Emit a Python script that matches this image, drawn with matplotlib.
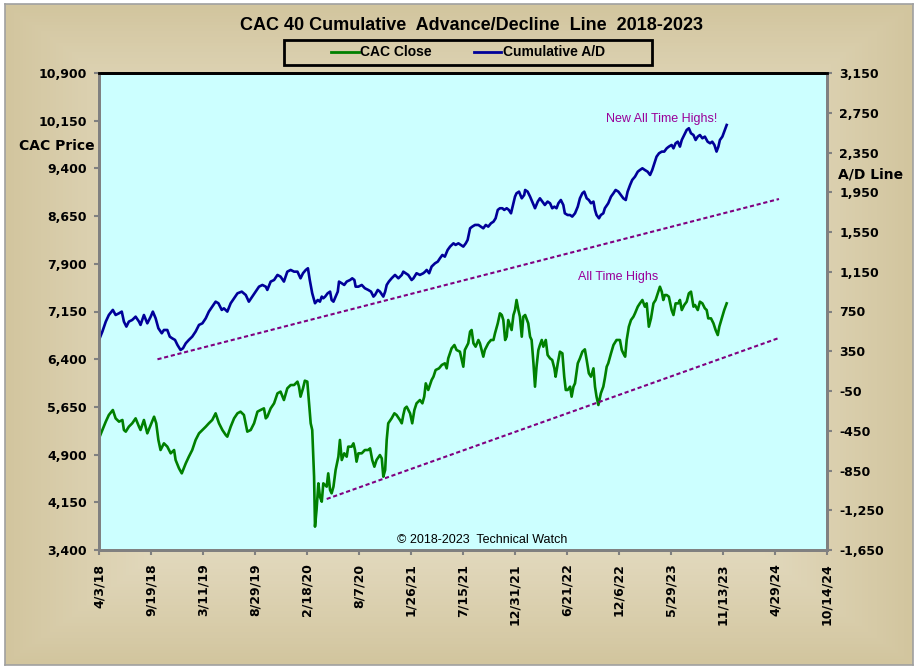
import numpy as np
import matplotlib
matplotlib.use("Agg")
import matplotlib.pyplot as plt
from matplotlib.patches import Rectangle
from matplotlib.lines import Line2D

# ==========================================
# DATA
# x = position along the date axis, 169 units between labels
# ==========================================
x_labels = ["4/3/18", "9/19/18", "3/11/19", "8/29/19", "2/18/20", "8/7/20",
            "1/26/21", "7/15/21", "12/31/21", "6/21/22", "12/6/22", "5/29/23",
            "11/13/23", "4/29/24", "10/14/24"]
x_tick_step = 169

cac_x = [
    0, 11, 22, 32, 45, 54, 65, 76, 81, 87,
    97, 108, 119, 130, 135, 146, 157, 168, 179, 186,
    193, 200, 211, 222, 233, 244, 249, 260, 269, 282,
    292, 303, 314, 325, 336, 347, 357, 368, 379, 390,
    401, 412, 417, 428, 439, 450, 460, 471, 482, 493,
    504, 515, 525, 536, 542, 547, 558, 569, 580, 590,
    601, 612, 623, 634, 645, 650, 655, 663, 669, 677,
    682, 688, 693, 699, 702, 707, 713, 718, 724, 729,
    740, 745, 751, 756, 762, 769, 778, 783, 789, 797,
    805, 810, 821, 827, 832, 837, 843, 854, 864, 875,
    881, 888, 895, 902, 913, 919, 924, 930, 935, 940,
    951, 960, 967, 978, 984, 989, 994, 1000, 1011, 1018,
    1025, 1032, 1043, 1051, 1057, 1062, 1070, 1081, 1087, 1094,
    1105, 1114, 1124, 1130, 1135, 1146, 1155, 1162, 1173, 1184,
    1189, 1200, 1206, 1211, 1217, 1224, 1233, 1238, 1249, 1254,
    1265, 1274, 1282, 1287, 1296, 1303, 1309, 1314, 1320, 1325,
    1330, 1341, 1347, 1352, 1357, 1363, 1368, 1374, 1379, 1385,
    1395, 1401, 1406, 1412, 1417, 1422, 1428, 1433, 1439, 1444,
    1452, 1458, 1466, 1473, 1480, 1484, 1491, 1498, 1506, 1512,
    1517, 1523, 1531, 1536, 1542, 1547, 1556, 1563, 1571, 1579,
    1585, 1592, 1599, 1607, 1612, 1617, 1623, 1631, 1639, 1644,
    1650, 1655, 1664, 1672, 1682, 1693, 1699, 1704, 1710, 1715,
    1722, 1729, 1737, 1742, 1751, 1758, 1766, 1774, 1780, 1787,
    1794, 1802, 1809, 1818, 1823, 1829, 1834, 1839, 1845, 1852,
    1861, 1867, 1874, 1883, 1888, 1894, 1902, 1910, 1917, 1924,
    1932, 1937, 1946, 1953, 1961, 1969, 1975, 1980, 1989, 1997,
    2004, 2011, 2016, 2024, 2032, 2040,
]
cac_close = [
    5156, 5287, 5418, 5523, 5601, 5470, 5418, 5444, 5287, 5261,
    5339, 5392, 5470, 5339, 5287, 5444, 5234, 5365, 5496, 5392,
    5130, 4972, 5077, 5025, 4920, 4972, 4815, 4684, 4605, 4763,
    4867, 4972, 5130, 5234, 5287, 5339, 5392, 5444, 5549, 5392,
    5287, 5208, 5182, 5339, 5470, 5549, 5575, 5523, 5261, 5287,
    5392, 5575, 5601, 5627, 5470, 5496, 5627, 5706, 5863, 5890,
    5758, 5942, 5994, 5994, 6047, 5968, 5811, 5942, 6062, 6047,
    5758, 5392, 5287, 4553, 3767, 4029, 4448, 4238, 4160, 4448,
    4396, 4605, 4343, 4291, 4396, 4658, 4867, 5130, 4815, 4920,
    4867, 5025, 5025, 5077, 4972, 4789, 4920, 4920, 4972, 4972,
    4998, 4815, 4710, 4815, 4893, 4841, 4553, 4658, 5130, 5392,
    5470, 5549, 5523, 5444, 5392, 5523, 5627, 5653, 5549, 5392,
    5601, 5706, 5758, 5706, 5811, 6020, 5916, 6073, 6125, 6230,
    6256, 6309, 6335, 6256, 6413, 6571, 6623, 6545, 6518, 6282,
    6545, 6650, 6833, 6859, 6650, 6597, 6702, 6650, 6440, 6545,
    6650, 6702, 6702, 6807, 6964, 7121, 7095, 7016, 6702, 6754,
    7016, 6859, 7095, 7173, 7331, 7173, 7069, 6754, 7069, 7095,
    6964, 6754, 6702, 6335, 5968, 6282, 6545, 6623, 6702, 6597,
    6702, 6466, 6413, 6387, 6256, 6125, 6335, 6518, 6492, 6125,
    5916, 5916, 5968, 5811, 5968, 6020, 6335, 6413, 6518, 6555,
    6387, 6178, 6125, 6256, 5968, 5811, 5680, 5863, 5968, 6099,
    6282, 6335, 6492, 6623, 6702, 6702, 6545, 6492, 6440, 6702,
    6911, 7016, 7069, 7121, 7226, 7278, 7331, 7226, 7278, 6911,
    7042, 7278, 7331, 7462, 7540, 7462, 7331, 7409, 7409, 7383,
    7173, 7095, 7278, 7278, 7331, 7173, 7252, 7304, 7435, 7462,
    7226, 7252, 7173, 7304, 7278, 7200, 7173, 7042, 7042, 6964,
    6859, 6780, 6911, 7042, 7173, 7278,
]

ad_x = [
    0, 11, 22, 32, 45, 54, 65, 74, 81, 89,
    97, 108, 119, 130, 135, 146, 157, 168, 175, 184,
    193, 204, 211, 222, 230, 238, 247, 255, 265, 273,
    282, 292, 303, 314, 325, 336, 347, 357, 368, 379,
    388, 399, 406, 417, 428, 439, 450, 464, 477, 487,
    498, 509, 520, 531, 542, 547, 558, 569, 580, 590,
    601, 612, 623, 634, 645, 655, 663, 672, 679, 685,
    693, 702, 711, 718, 724, 729, 735, 743, 751, 756,
    762, 769, 776, 780, 789, 797, 805, 816, 823, 830,
    834, 843, 854, 864, 875, 884, 892, 897, 906, 913,
    924, 930, 935, 942, 951, 962, 973, 984, 989, 997,
    1005, 1016, 1022, 1032, 1043, 1054, 1060, 1065, 1073, 1081,
    1092, 1101, 1108, 1116, 1124, 1133, 1141, 1152, 1159, 1168,
    1176, 1184, 1192, 1198, 1206, 1213, 1222, 1233, 1241, 1249,
    1257, 1265, 1274, 1282, 1289, 1296, 1303, 1311, 1317, 1325,
    1332, 1339, 1347, 1352, 1357, 1365, 1374, 1382, 1385, 1393,
    1401, 1408, 1417, 1426, 1433, 1441, 1449, 1458, 1466, 1473,
    1480, 1487, 1493, 1501, 1509, 1514, 1523, 1531, 1538, 1547,
    1556, 1563, 1571, 1577, 1585, 1592, 1599, 1607, 1612, 1617,
    1625, 1631, 1639, 1644, 1655, 1664, 1672, 1679, 1688, 1696,
    1704, 1712, 1718, 1726, 1733, 1742, 1751, 1758, 1766, 1774,
    1783, 1791, 1798, 1805, 1812, 1820, 1829, 1837, 1845, 1852,
    1861, 1867, 1874, 1881, 1888, 1894, 1902, 1910, 1917, 1924,
    1932, 1939, 1946, 1953, 1961, 1969, 1978, 1986, 1993, 2000,
    2007, 2013, 2018, 2026, 2032, 2040,
]
ad_line = [
    464, 548, 648, 715, 766, 715, 732, 749, 648, 598,
    648, 665, 698, 648, 615, 715, 631, 698, 749, 682,
    581, 531, 564, 564, 497, 480, 464, 413, 363, 380,
    430, 464, 497, 548, 615, 631, 682, 749, 799, 849,
    833, 766, 782, 749, 833, 883, 933, 950, 916, 849,
    900, 950, 1000, 1017, 1000, 967, 1051, 1067, 1118, 1101,
    1051, 1151, 1168, 1151, 1151, 1084, 1135, 1168, 1185, 1067,
    933, 833, 866, 849, 900, 883, 900, 933, 950, 866,
    849, 900, 950, 1051, 1034, 1017, 1051, 1067, 1084, 1067,
    1000, 1000, 1017, 984, 967, 950, 900, 916, 967, 950,
    900, 950, 1017, 1051, 1084, 1118, 1084, 1118, 1151, 1135,
    1118, 1067, 1084, 1135, 1118, 1135, 1151, 1168, 1135, 1202,
    1235, 1252, 1285, 1319, 1302, 1369, 1403, 1436, 1420, 1436,
    1420, 1403, 1436, 1470, 1587, 1604, 1621, 1621, 1604, 1587,
    1621, 1604, 1638, 1654, 1688, 1772, 1789, 1789, 1772, 1789,
    1772, 1738, 1839, 1906, 1940, 1956, 1889, 1923, 1973, 1956,
    1906, 1856, 1789, 1856, 1889, 1856, 1822, 1856, 1839, 1789,
    1805, 1789, 1839, 1872, 1822, 1738, 1721, 1721, 1705, 1738,
    1805, 1889, 1940, 1956, 1889, 1872, 1839, 1856, 1772, 1721,
    1688, 1721, 1738, 1789, 1839, 1906, 1940, 1973, 1956, 1923,
    1889, 1872, 1956, 2023, 2074, 2107, 2157, 2174, 2191, 2174,
    2157, 2124, 2174, 2241, 2308, 2342, 2359, 2359, 2392, 2409,
    2426, 2392, 2443, 2459, 2409, 2476, 2526, 2577, 2594, 2543,
    2526, 2476, 2510, 2526, 2493, 2510, 2459, 2443, 2459, 2426,
    2359, 2409, 2476, 2510, 2560, 2627,
]

# trend lines: start/end position and value
ad_trend_x = [190, 2210]
ad_trend_vals = [269, 1882]
cac_trend_x = [740, 2210]
cac_trend_vals = [4202, 6734]

cac_ticks = list(range(3400, 10901, 750))
ad_ticks = list(range(-1650, 3151, 400))

plt.rcParams["font.family"] = ["DejaVu Sans"]
plt.rcParams["font.weight"] = "bold"

W, H = 918, 670
fig = plt.figure(figsize=(W / 100, H / 100), dpi=100)
fig.patch.set_facecolor("white")

# tan gradient background
bg = fig.add_axes([5 / W, 1 - 665 / H, 908 / W, 661 / H])
bg.set_zorder(-5)
u = np.linspace(-1, 1, 300)
v = np.linspace(-1, 1, 220)
U, V = np.meshgrid(u, v)
r = np.clip(np.maximum(np.abs(U), np.abs(V)), 0, 1) ** 1.6
c_mid = np.array([243, 238, 222]) / 255
c_edge = np.array([210, 197, 158]) / 255
img = c_mid[None, None, :] * (1 - r[..., None]) + c_edge[None, None, :] * r[..., None]
bg.imshow(img, aspect="auto", extent=[0, 1, 0, 1])
bg.set_xticks([])
bg.set_yticks([])
for s in bg.spines.values():
    s.set_color("#a0a0a0")
    s.set_linewidth(1.2)

# main plot
ax = fig.add_axes([99 / W, 1 - 550 / H, 728 / W, 477 / H])
ax.set_facecolor("#CCFFFF")
ax2 = ax.twinx()

ax.plot(cac_x, cac_close, color="#008000", lw=1.9)
ax.plot(cac_trend_x, cac_trend_vals, color="#800080", lw=1.5, dashes=(2.0, 1.3))
ax2.plot(ad_x, ad_line, color="#000099", lw=1.9)
ax2.plot(ad_trend_x, ad_trend_vals, color="#800080", lw=1.5, dashes=(2.0, 1.3))

ax.set_ylim(3400, 10900)
ax2.set_ylim(-1650, 3150)
ax.set_yticks(cac_ticks)
ax.set_yticklabels([f"{t:,}" for t in cac_ticks])
ax2.set_yticks(ad_ticks)
ax2.set_yticklabels([f"{t:,}" for t in ad_ticks])

x_ticks = [x_tick_step * k for k in range(len(x_labels))]
ax.set_xlim(x_ticks[0], x_ticks[-1])
ax.set_xticks(x_ticks)
ax.set_xticklabels(x_labels, rotation=90)

for a in (ax, ax2):
    a.tick_params(axis="both", direction="out", length=3.8, width=1.5,
                  color="#808080", labelsize=9, pad=5)
    for name, s in a.spines.items():
        s.set_linewidth(2)
        s.set_color("black" if name == "top" else "#808080")
ax.tick_params(axis="x", pad=6)

# texts
ax2.text(1830, 2687, "New All Time Highs!", color="#990099", fontsize=9,
         fontweight="normal", family="Liberation Sans", ha="center", va="center")
ax.text(1687, 7693, "All Time Highs", color="#990099", fontsize=9,
        fontweight="normal", family="Liberation Sans", ha="center", va="center")
ax.text(0.527, 0.021, "\u00a9 2018-2023  Technical Watch", transform=ax.transAxes,
        fontsize=9, fontweight="normal", family="Liberation Sans",
        ha="center", va="center")

fig.text(472 / W, 1 - 25 / H, "CAC 40 Cumulative  Advance/Decline  Line  2018-2023",
         ha="center", va="center", fontsize=13, fontweight="bold",
         family="Liberation Sans")
fig.text(57 / W, 1 - 146 / H, "CAC Price", ha="center", va="center",
         fontsize=10, fontweight="bold")
fig.text(871 / W, 1 - 174 / H, "A/D Line", ha="center", va="center",
         fontsize=10, fontweight="bold")

# legend
fig.patches.append(Rectangle((284 / W, 1 - 65 / H), 368 / W, 25 / H,
                             transform=fig.transFigure, fill=False,
                             edgecolor="black", lw=2))
handles = [Line2D([], [], color="#008000", lw=2),
           Line2D([], [], color="#000099", lw=2)]
fig.legend(handles, ["CAC Close", "Cumulative A/D"], loc="center",
           bbox_to_anchor=(468 / W, 1 - 52.5 / H), ncol=2, frameon=False,
           prop={"family": "Liberation Sans", "weight": "bold", "size": 10},
           handlelength=2.0, handletextpad=0.1, columnspacing=3.0)

fig.savefig("out.png", dpi=100)
